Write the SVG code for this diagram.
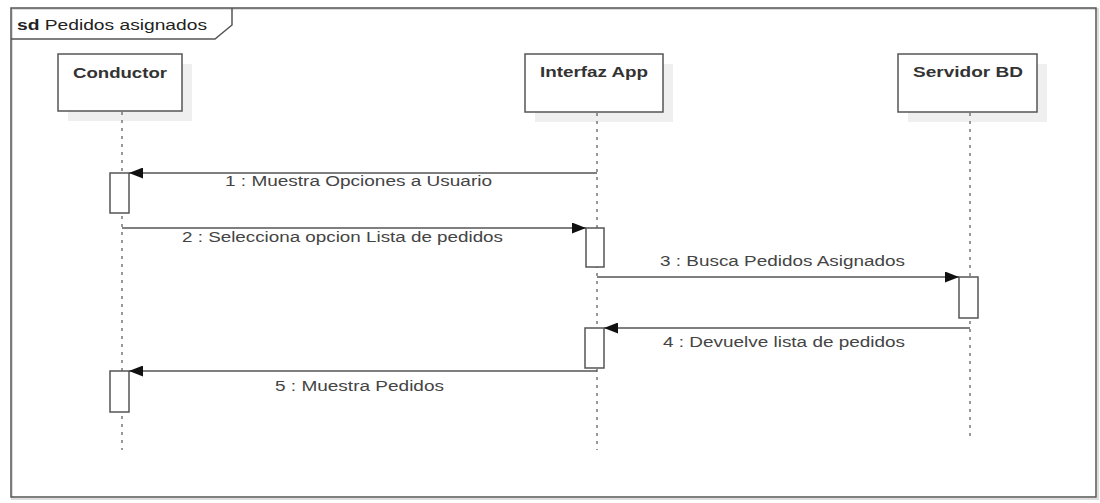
<svg xmlns="http://www.w3.org/2000/svg" width="1100" height="503" viewBox="0 0 1100 503">
  <style>
    .frame { fill: none; stroke: #555; stroke-width: 1.5; }
    .shadow { fill: #efefef; stroke: none; }
    .head { fill: #fff; stroke: #555; stroke-width: 1.5; }
    .title { font-family: "Liberation Sans", Arial, sans-serif; font-size: 14px; font-weight: bold; fill: #333; }
    .life { stroke: #777; stroke-width: 1.5; stroke-dasharray: 3 5; fill: none; }
    .act { fill: #fff; stroke: #555; stroke-width: 1.5; }
    .msg { stroke: #555; stroke-width: 1.5; fill: none; marker-end: url(#tip); }
    .lbl { font-family: "Liberation Sans", Arial, sans-serif; font-size: 14px; fill: #444; }
  </style>
  <defs>
    <marker id="tip" markerWidth="15" markerHeight="11" refX="14" refY="5.5" orient="auto" markerUnits="userSpaceOnUse">
      <path d="M0,0 L14,5.5 L0,11 Z" fill="#111"/>
    </marker>
  </defs>

  <rect width="1100" height="503" fill="#fff"/>

  <!-- sequence frame with its name tab -->
  <g id="frame">
    <rect x="12" y="9" width="1086" height="490" fill="none" stroke="#ddd" stroke-width="2"/>
    <rect class="frame" x="11" y="8" width="1085" height="489"/>
    <path class="frame" d="M11,39 L215,39 L232,25 L232,8"/>
    <text x="17" y="30" font-family="'Liberation Sans', Arial, sans-serif" font-size="14" fill="#222" textLength="190" lengthAdjust="spacingAndGlyphs"><tspan font-weight="bold">sd</tspan> Pedidos asignados</text>
  </g>

  <!-- lifelines -->
  <g id="conductor">
    <rect class="shadow" x="68" y="64" width="124" height="57"/>
    <rect class="head" x="58" y="54" width="124" height="57"/>
    <text class="title" x="73" y="78" textLength="94" lengthAdjust="spacingAndGlyphs">Conductor</text>
    <line class="life" x1="122" y1="112" x2="122" y2="450"/>
    <rect class="act" x="110" y="173" width="19" height="40"/>
    <rect class="act" x="110" y="371" width="19" height="41"/>
  </g>

  <g id="interfaz-app">
    <rect class="shadow" x="535" y="64" width="138" height="58"/>
    <rect class="head" x="525" y="54" width="138" height="58"/>
    <text class="title" x="540" y="77" textLength="108" lengthAdjust="spacingAndGlyphs">Interfaz App</text>
    <line class="life" x1="597" y1="113" x2="597" y2="450"/>
    <rect class="act" x="586" y="228" width="18" height="39"/>
    <rect class="act" x="585" y="328" width="19" height="40"/>
  </g>

  <g id="servidor-bd">
    <rect class="shadow" x="908" y="64" width="139" height="58"/>
    <rect class="head" x="898" y="54" width="139" height="58"/>
    <text class="title" x="913" y="77" textLength="110" lengthAdjust="spacingAndGlyphs">Servidor BD</text>
    <line class="life" x1="970" y1="113" x2="970" y2="441"/>
    <rect class="act" x="959" y="277" width="19" height="41"/>
  </g>

  <!-- messages -->
  <g id="connectors">
    <line class="msg" x1="597" y1="173" x2="129" y2="173"/>
    <text class="lbl" x="225" y="186" textLength="267" lengthAdjust="spacingAndGlyphs">1 : Muestra Opciones a Usuario</text>

    <line class="msg" x1="122" y1="228" x2="586" y2="228"/>
    <text class="lbl" x="182" y="242" textLength="321" lengthAdjust="spacingAndGlyphs">2 : Selecciona opcion Lista de pedidos</text>

    <line class="msg" x1="597" y1="277" x2="959" y2="277"/>
    <text class="lbl" x="660" y="266" textLength="245" lengthAdjust="spacingAndGlyphs">3 : Busca Pedidos Asignados</text>

    <line class="msg" x1="970" y1="328" x2="604" y2="328"/>
    <text class="lbl" x="663" y="347" textLength="242" lengthAdjust="spacingAndGlyphs">4 : Devuelve lista de pedidos</text>

    <line class="msg" x1="597" y1="371" x2="129" y2="371"/>
    <text class="lbl" x="275" y="391" textLength="169" lengthAdjust="spacingAndGlyphs">5 : Muestra Pedidos</text>
  </g>
</svg>
